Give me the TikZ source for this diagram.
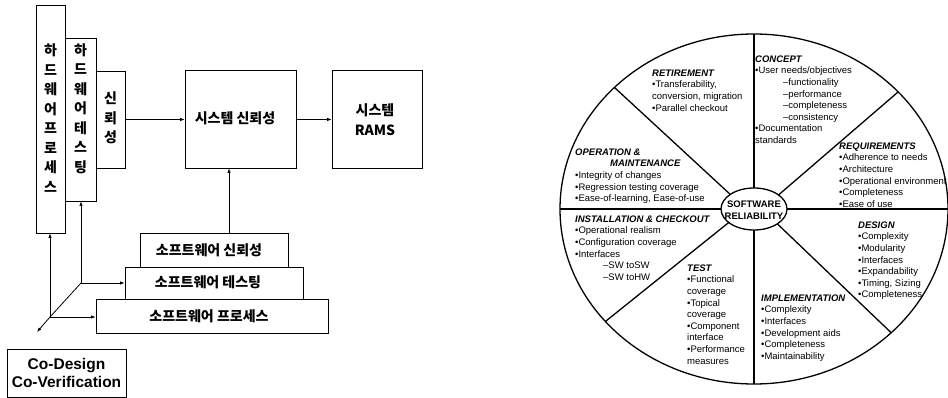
\documentclass[tikz,border=0pt]{standalone}
\usepackage{fontspec}
\setmainfont{Liberation Sans}
\newfontfamily\kr{Noto Sans CJK KR}
\usetikzlibrary{arrows.meta,calc}
\newcommand\hdg[1]{{\bfseries\itshape\fontsize{9.5}{11.6}\selectfont #1}}
\begin{document}
\begin{tikzpicture}[x=1pt,y=-1pt,
  box/.style={draw, line width=0.8pt, inner sep=0pt},
  kor/.style={font=\kr\bfseries\fontsize{14}{19.5}\selectfont, align=center, inner sep=0pt},
  arr/.style={-{Latex[length=4.5pt,width=3.5pt]}, line width=0.8pt},
  ln/.style={line width=0.8pt},
  wl/.style={line width=1.3pt},
  txt/.style={anchor=north west, align=left, inner sep=0pt, font=\fontsize{9.5}{11.6}\selectfont},
]
\useasboundingbox (0,0) rectangle (948,398);

% ---------- left diagram ----------
\node[box, minimum width=29pt, minimum height=228pt] (A) at (50.5,119) {};
\node[kor] (At) at (50.5,118) {하\\드\\웨\\어\\프\\로\\세\\스};
\node[box, minimum width=31pt, minimum height=163pt] (B) at (80.5,119.5) {};
\node[kor] (Bt) at (80.5,108.5) {하\\드\\웨\\어\\테\\스\\팅};
\node[box, minimum width=29pt, minimum height=97pt] (C) at (110.5,119.5) {};
\node[kor] (Ct) at (110.5,118) {신\\뢰\\성};

\node[box, minimum width=111pt, minimum height=98pt] (SYS) at (240.5,119) {};
\node[kor] (SYSt) at (235,118) {시스템 신뢰성};
\node[box, minimum width=90pt, minimum height=98pt] (RAMS) at (377,119) {};
\node[kor, font=\kr\bfseries\fontsize{14}{20}\selectfont] (RAMSt) at (375,120) {시스템\\RAMS};

\node[box, minimum width=148pt, minimum height=34pt] (SWR) at (214,250) {};
\node[kor] (SWRt) at (209,250) {소프트웨어 신뢰성};
\node[box, minimum width=178pt, minimum height=32pt] (SWT) at (214,283) {};
\node[kor] (SWTt) at (208,282) {소프트웨어 테스팅};
\node[box, minimum width=232pt, minimum height=34pt] (SWP) at (212,316) {};
\node[kor] (SWPt) at (209,316) {소프트웨어 프로세스};

\node[box, minimum width=119pt, minimum height=48pt, align=center,
      font=\bfseries\fontsize{15.5}{18}\selectfont] (CO) at (66.5,373) {Co-Design\\Co-Verification};

\coordinate (O) at (50,317);
\coordinate (D) at (81,283);
\coordinate (E) at (37,332);
\coordinate (vx) at (229,0);

\draw[arr] (C.east) -- (C.east -| SYS.west);
\draw[arr] (SYS.east |- C.east) -- (C.east -| RAMS.west);
\draw[arr] (vx |- SWR.north) -- (vx |- SYS.south);
\draw[arr] (O) -- (O |- A.south);
\draw[arr] (O) -- (O -| SWP.west);
\draw[arr] (O) -- (E);
\draw[ln] (O) -- (D);
\draw[arr] (D) -- (D |- B.south);
\draw[arr] (D) -- (D -| SWT.west);

% ---------- reliability wheel ----------
\coordinate (c) at (754,209);
\draw[wl] (c) ellipse (194pt and 175pt);
\draw[wl] (c) ellipse (33pt and 21pt);
\node[inner sep=0pt, align=center, font=\bfseries\fontsize{9.5}{12}\selectfont] (core) at (754,210) {SOFTWARE\\RELIABILITY};
\foreach \a in {90,270,180,0,42,136,220,315}
  \draw[wl] ($(c)+(\a:33pt and 21pt)$) -- ($(c)+(\a:194pt and 175pt)$);

\node[txt] (concept) at (755,55.5) {\hdg{CONCEPT}\\
  •User needs/objectives\\
  \hspace*{28pt}–functionality\\
  \hspace*{28pt}–performance\\
  \hspace*{28pt}–completeness\\
  \hspace*{28pt}–consistency\\
  •Documentation\\
  standards};
\node[txt] (retire) at (652,69.5) {\hdg{RETIREMENT}\\
  •Transferability,\\
  conversion, migration\\
  •Parallel checkout};
\node[txt] (oper) at (575,148.5) {\hdg{OPERATION \&}\\
  \hspace*{35pt}\hdg{MAINTENANCE}\\
  •Integrity of changes\\
  •Regression testing coverage\\
  •Ease-of-learning, Ease-of-use};
\node[txt] (install) at (575,215.5) {\hdg{INSTALLATION \& CHECKOUT}\\
  •Operational realism\\
  •Configuration coverage\\
  •Interfaces\\
  \hspace*{28pt}–SW toSW\\
  \hspace*{28pt}–SW toHW};
\node[txt] (test) at (687,264.5) {\hdg{TEST}\\
  •Functional\\
  coverage\\
  •Topical\\
  coverage\\
  •Component\\
  interface\\
  •Performance\\
  measures};
\node[txt] (impl) at (761,294.5) {\hdg{IMPLEMENTATION}\\
  •Complexity\\
  •Interfaces\\
  •Development aids\\
  •Completeness\\
  •Maintainability};
\node[txt] (design) at (858,221.5) {\hdg{DESIGN}\\
  •Complexity\\
  •Modularity\\
  •Interfaces\\
  •Expandability\\
  •Timing, Sizing\\
  •Completeness};
\node[txt] (req) at (839,142.5) {\hdg{REQUIREMENTS}\\
  •Adherence to needs\\
  •Architecture\\
  •Operational environment\\
  •Completeness\\
  •Ease of use};
\end{tikzpicture}
\end{document}
